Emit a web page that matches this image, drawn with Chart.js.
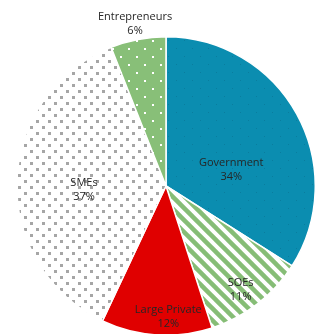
<!DOCTYPE html>
<html>
<head>
<meta charset="utf-8">
<script src="https://cdn.jsdelivr.net/npm/chart.js@4.4.1/dist/chart.umd.min.js"></script>
<style>
  html, body { margin: 0; padding: 0; background: #fff; overflow: hidden; }
  #wrap { position: relative; width: 316px; height: 336px; }
</style>
</head>
<body>
<div id="wrap"><canvas id="pieChart"></canvas></div>
<script>
// values
let categories = ['Government', 'SOEs', 'Large Private', 'SMEs', 'Entrepreneurs'];
let shares = [34, 11, 12, 37, 6];

// label placement per slice: angle shift (deg) and radius fraction
let labelShift = [15, 2, -4.6, -4.6, 0];
let labelRadius = [0.45, 0.855, 0.88, 0.55, 1.107];

function tile(size, paint) {
    let c = document.createElement('canvas');
    c.width = size;
    c.height = size;
    let g = c.getContext('2d');
    paint(g, size);
    return g.createPattern(c, 'repeat');
}

function dots(bg, fg, size, dot) {
    return tile(size, function (g, s) {
        g.fillStyle = bg;
        g.fillRect(0, 0, s, s);
        g.fillStyle = fg;
        g.fillRect(0, 0, dot, dot);
        g.fillRect(s / 2, s / 2, dot, dot);
    });
}

function stripes(bg, fg, size, w) {
    return tile(size, function (g, s) {
        g.fillStyle = bg;
        g.fillRect(0, 0, s, s);
        g.strokeStyle = fg;
        g.lineWidth = w;
        for (let k = -1; k <= 1; k++) {
            g.beginPath();
            g.moveTo(k * s - 2, -2);
            g.lineTo(k * s + s + 2, s + 2);
            g.stroke();
        }
    });
}

let fills = [
    dots('#0b8db0', '#0a7d9e', 16, 1),
    stripes('#ffffff', '#86bd76', 12, 4.5),
    '#e00000',
    dots('#ffffff', '#a6a6a6', 12, 3),
    dots('#88bf78', '#ffffff', 16, 2)
];

let sliceLabels = {
    id: 'sliceLabels',
    afterDatasetsDraw(chart) {
        let ctx = chart.ctx;
        let arcs = chart.getDatasetMeta(0).data;
        ctx.save();
        ctx.font = '11px "Open Sans", "Noto Sans", sans-serif';
        ctx.fillStyle = '#262626';
        ctx.textAlign = 'center';
        ctx.textBaseline = 'middle';
        arcs.forEach(function (arc, i) {
            let p = arc.getProps(['x', 'y', 'startAngle', 'endAngle', 'outerRadius'], true);
            let a = (p.startAngle + p.endAngle) / 2 + labelShift[i] * Math.PI / 180;
            let r = p.outerRadius * labelRadius[i];
            let x = p.x + Math.cos(a) * r;
            let y = p.y + Math.sin(a) * r;
            ctx.fillText(categories[i], x, y - 7);
            ctx.fillText(shares[i] + '%', x, y + 7);
        });
        ctx.restore();
    }
};

let grafico = document.getElementById('pieChart').getContext('2d');

let chart = new Chart(grafico, {
    type: 'pie',
    data: {
        labels: categories,
        datasets: [{
            data: shares,
            backgroundColor: fills,
            borderColor: '#ffffff',
            borderWidth: 1.5
        }]
    },
    options: {
        responsive: true,
        maintainAspectRatio: false,
        animation: false,
        layout: { padding: { top: 36, left: 16, right: 0, bottom: 0 } },
        plugins: {
            legend: { display: false },
            tooltip: { enabled: false }
        }
    },
    plugins: [sliceLabels]
});
</script>
</body>
</html>
